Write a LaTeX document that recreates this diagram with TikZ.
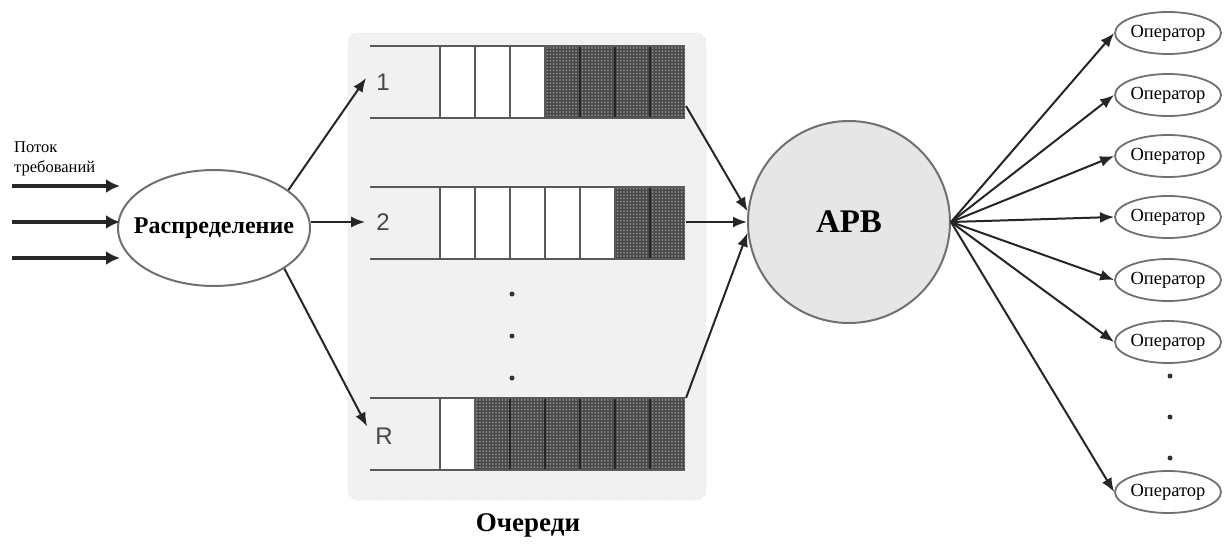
\documentclass[tikz,border=0pt]{standalone}
\usepackage{fontspec}
\setmainfont{Liberation Serif}
\newfontfamily\labelsans{Liberation Sans}
\usetikzlibrary{shapes.geometric,arrows.meta,patterns.meta}
\definecolor{panelbg}{HTML}{F1F1F1}
\definecolor{panelrim}{HTML}{D6D6D6}
\definecolor{busy}{HTML}{484848}
\definecolor{busydot}{HTML}{949494}
\definecolor{rim}{HTML}{707070}
\definecolor{hubfill}{HTML}{E6E6E6}
\begin{document}
\begin{tikzpicture}[x=1pt,y=-1pt,
  link/.style={draw=black!85, line width=2pt, -{Latex[length=14pt,width=11pt]}},
  feed/.style={draw=black!85, line width=3.5pt, -{Latex[length=14pt,width=14pt]}},
  oper/.style={ellipse, draw=rim, line width=1.8pt, fill=white, minimum width=106pt,
    minimum height=42pt, inner sep=0pt, font=\fontsize{18.5}{21}\selectfont},
  qlabel/.style={font=\labelsans\fontsize{24}{28}\selectfont, text=black!72, inner sep=1pt},
  dotmark/.style={circle, fill=black!80, inner sep=0pt, minimum size=5pt},
  freecell/.style={fill=white},
  busycell/.style={fill=busy, postaction={pattern={Dots[distance=3.2pt,radius=0.95pt]},
    pattern color=busydot}},
  qline/.style={draw=black!65, line width=2pt},
]
\useasboundingbox (0,0) rectangle (1224,544);

% queue panel
\draw[panelrim, dashed, fill=panelbg, rounded corners=10pt] (348,33) rectangle (706,500);

% queues: top edge / number of free cells
\foreach \top/\free in {46/3, 187/5, 398/1}{
  \pgfmathsetmacro{\bot}{\top+72}
  \foreach \i in {0,...,6}{
    \pgfmathsetmacro{\xa}{440+35*\i}
    \pgfmathsetmacro{\xb}{475+35*\i}
    \ifnum\i<\free
      \fill[freecell] (\xa,\top) rectangle (\xb,\bot);
    \else
      \path[busycell] (\xa,\top) rectangle (\xb,\bot);
    \fi
  }
  \foreach \i in {0,...,6}{
    \pgfmathsetmacro{\xa}{440+35*\i}
    \ifnum\i>\free
      \draw[black!85, line width=2pt] (\xa,\top) -- (\xa,\bot);
    \else
      \draw[black!65, line width=2pt] (\xa,\top) -- (\xa,\bot);
    \fi
  }
  \draw[qline] (370,\top) -- (685,\top);
  \draw[qline] (370,\bot) -- (685,\bot);
}

% queue numbers
\node[qlabel] (q1) at (383,82) {1};
\node[qlabel] (q2) at (383,222) {2};
\node[qlabel] (qR) at (384,436) {R};

% queue outputs
\coordinate (q1out) at (686,106);
\coordinate (q2out) at (686,222);
\coordinate (qRout) at (686,398);

% vertical ellipsis between queues
\node[dotmark] (qd1) at (512,294) {};
\node[dotmark] (qd2) at (512,336) {};
\node[dotmark] (qd3) at (512,378) {};

% distributor
\node[ellipse, draw=rim, line width=2pt, fill=white, minimum width=192pt,
  minimum height=116pt, inner xsep=-14pt, inner ysep=0pt,
  font=\bfseries\fontsize{24}{28}\selectfont]
  (dist) at (214,228) {Распределение};

% incoming flow
\node[anchor=north west, inner sep=0pt, align=left, font=\fontsize{16.5}{20}\selectfont]
  (flow) at (14,141) {Поток\\требований};
\foreach \k/\y in {1/186, 2/222, 3/258}{
  \coordinate (in\k) at (12,\y);
  \coordinate (at\k) at (120,\y);
  \draw[feed] (in\k) -- (at\k);
}

% distributor to queues
\draw[link] (dist.27) -- ([xshift=-9pt,yshift=4pt]q1.west);
\draw[link] (dist.east |- q2.west) -- ([xshift=-10pt]q2.west);
\draw[link] (dist.-30) -- ([xshift=-7pt]qR.north west);

% automatic call distributor
\node[circle, draw=rim, line width=2pt, fill=hubfill, minimum size=202pt, inner sep=0pt,
  font=\bfseries\fontsize{33}{36}\selectfont] (arv) at (849,222) {АРВ};

\draw[link] (q1out) -- (arv.174);
\draw[link] (q2out) -- (arv.180);
\draw[link] (qRout) -- (arv.186);

% operators
\foreach \k/\y in {1/33, 2/95, 3/156, 4/217, 5/280, 6/342, 7/492}{
  \node[oper] (op\k) at (1168,\y) {Оператор};
  \draw[link] (arv.east) -- (op\k.west);
}
\node[dotmark] (od1) at (1170,376) {};
\node[dotmark] (od2) at (1170,417) {};
\node[dotmark] (od3) at (1170,458) {};

% panel caption
\node[font=\bfseries\fontsize{27}{30}\selectfont] (cap) at (528,525) {Очереди};
\end{tikzpicture}
\end{document}
